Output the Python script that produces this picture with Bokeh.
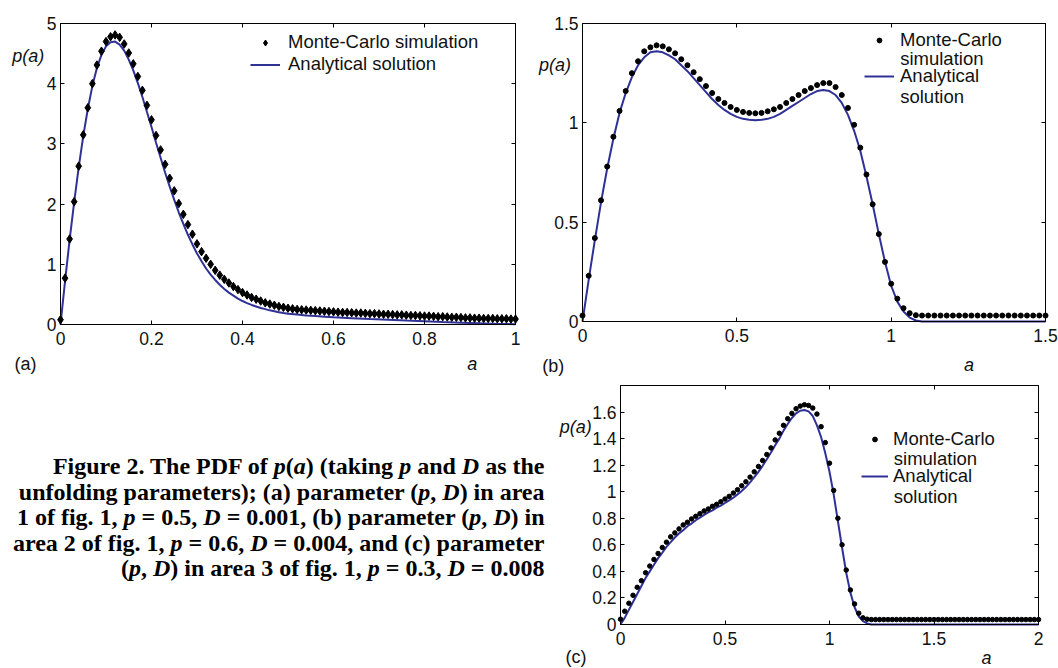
from bokeh.plotting import figure
from bokeh.models import (Range1d, FixedTicker, LinearAxis, CustomJSTickFormatter,
                          Label, Legend, LegendItem, Div, ColumnDataSource)
from bokeh.layouts import row, column
from bokeh.embed import file_html
from bokeh.resources import INLINE

# ---------------- data ----------------
# panel (a): p = 0.5, D = 0.001
A_MC_X = [round(0.01 * i, 2) for i in range(101)]          # simulation sampled every 0.01
A_MC_Y = [0.08, 0.77, 1.42, 2.04, 2.63, 3.15, 3.60, 4.00, 4.31, 4.54,
          4.70, 4.78, 4.81, 4.77, 4.66, 4.51, 4.33, 4.12, 3.89, 3.64,
          3.40, 3.14, 2.90, 2.66, 2.43, 2.22, 2.01, 1.83, 1.66, 1.50,
          1.34, 1.21, 1.10, 1.00, 0.90, 0.82, 0.75, 0.69, 0.63, 0.58,
          0.53, 0.49, 0.45, 0.42, 0.39, 0.36, 0.34, 0.32, 0.30, 0.285,
          0.27, 0.26, 0.25, 0.245, 0.24, 0.235, 0.23, 0.225, 0.22, 0.215,
          0.21, 0.205, 0.20, 0.20, 0.195, 0.19, 0.19, 0.185, 0.18, 0.18,
          0.175, 0.17, 0.17, 0.165, 0.16, 0.16, 0.155, 0.15, 0.15, 0.145,
          0.14, 0.14, 0.135, 0.13, 0.13, 0.125, 0.12, 0.12, 0.115, 0.11,
          0.11, 0.105, 0.105, 0.10, 0.10, 0.10, 0.095, 0.095, 0.095, 0.09,
          0.09]
A_AN_X = [0.00, 0.01, 0.02, 0.03, 0.04, 0.05, 0.06, 0.07, 0.08, 0.09,
          0.10, 0.11, 0.12, 0.13, 0.14, 0.15, 0.16, 0.17, 0.18, 0.19,
          0.20, 0.21, 0.22, 0.23, 0.24, 0.25, 0.26, 0.27, 0.28, 0.29,
          0.30, 0.31, 0.32, 0.33, 0.34, 0.35, 0.36, 0.37, 0.38, 0.39,
          0.40, 0.41, 0.42, 0.43, 0.44, 0.45, 0.46, 0.47, 0.48, 0.49,
          0.50, 0.52, 0.54, 0.56, 0.58, 0.60, 0.64, 0.68, 0.72, 0.76,
          0.80, 0.84, 0.88, 0.92, 0.96, 1.00]
A_AN_Y = [0.00, 0.72, 1.40, 2.03, 2.61, 3.13, 3.58, 3.96, 4.26, 4.48,
          4.62, 4.69, 4.70, 4.65, 4.55, 4.40, 4.22, 4.01, 3.78, 3.53,
          3.28, 3.02, 2.77, 2.52, 2.29, 2.07, 1.86, 1.67, 1.49, 1.33,
          1.18, 1.05, 0.93, 0.83, 0.74, 0.66, 0.59, 0.53, 0.48, 0.43,
          0.39, 0.355, 0.325, 0.30, 0.275, 0.255, 0.235, 0.22, 0.205, 0.19,
          0.18, 0.165, 0.15, 0.14, 0.13, 0.12, 0.105, 0.09, 0.08, 0.065,
          0.055, 0.04, 0.03, 0.02, 0.01, 0.005]

# panel (b): p = 0.6, D = 0.004
B_MC_X = [round(0.02 * i, 2) for i in range(76)]           # simulation sampled every 0.02
B_MC_Y = [0.03, 0.23, 0.42, 0.61, 0.78, 0.93, 1.06, 1.16, 1.25, 1.31,
          1.36, 1.38, 1.39, 1.385, 1.37, 1.35, 1.32, 1.29, 1.255, 1.22,
          1.185, 1.15, 1.12, 1.10, 1.08, 1.065, 1.055, 1.05, 1.048, 1.05,
          1.058, 1.068, 1.08, 1.10, 1.12, 1.14, 1.16, 1.175, 1.19, 1.20,
          1.20, 1.18, 1.14, 1.075, 0.99, 0.875, 0.74, 0.59, 0.44, 0.30,
          0.19, 0.115, 0.067, 0.042, 0.032, 0.03, 0.03, 0.03, 0.03, 0.03,
          0.03, 0.03, 0.03, 0.03, 0.03, 0.03, 0.03, 0.03, 0.03, 0.03,
          0.03, 0.03, 0.03, 0.03, 0.03, 0.03]
B_AN_X = [round(0.02 * i, 2) for i in range(57)] + [1.5]
B_AN_Y = [0.00, 0.21, 0.41, 0.60, 0.77, 0.92, 1.05, 1.15, 1.23, 1.29,
          1.33, 1.355, 1.36, 1.355, 1.34, 1.32, 1.29, 1.26, 1.225, 1.19,
          1.155, 1.12, 1.09, 1.065, 1.045, 1.03, 1.02, 1.015, 1.013, 1.015,
          1.02, 1.03, 1.045, 1.065, 1.085, 1.105, 1.125, 1.145, 1.16, 1.165,
          1.16, 1.14, 1.10, 1.04, 0.96, 0.86, 0.73, 0.59, 0.44, 0.30,
          0.18, 0.10, 0.05, 0.02, 0.005, 0.0, 0.0, 0.0]

# panel (c): p = 0.3, D = 0.008
C_MC_X = [round(0.02 * i, 2) for i in range(101)]          # simulation sampled every 0.02
C_MC_Y = [0.04, 0.10, 0.16, 0.22, 0.28, 0.33, 0.39, 0.44, 0.49, 0.535,
          0.58, 0.62, 0.66, 0.69, 0.72, 0.75, 0.77, 0.795, 0.815, 0.835,
          0.855, 0.87, 0.89, 0.905, 0.925, 0.945, 0.965, 0.99, 1.015, 1.045,
          1.075, 1.11, 1.15, 1.19, 1.235, 1.28, 1.33, 1.39, 1.44, 1.50,
          1.55, 1.59, 1.625, 1.645, 1.655, 1.65, 1.63, 1.585, 1.49, 1.37,
          1.215, 1.01, 0.80, 0.60, 0.41, 0.26, 0.155, 0.085, 0.05, 0.04,
          0.037, 0.037, 0.037, 0.037, 0.037, 0.037, 0.037, 0.037, 0.037, 0.037,
          0.037, 0.037, 0.037, 0.037, 0.037, 0.037, 0.037, 0.037, 0.037, 0.037,
          0.037, 0.037, 0.037, 0.037, 0.037, 0.037, 0.037, 0.037, 0.037, 0.037,
          0.037, 0.037, 0.037, 0.037, 0.037, 0.037, 0.037, 0.037, 0.037, 0.037,
          0.037]
C_AN_X = [round(0.02 * i, 2) for i in range(61)] + [2.0]
C_AN_Y = [0.00, 0.05, 0.11, 0.17, 0.23, 0.29, 0.35, 0.40, 0.45, 0.50,
          0.54, 0.585, 0.62, 0.655, 0.685, 0.71, 0.74, 0.76, 0.785, 0.805,
          0.825, 0.845, 0.86, 0.88, 0.895, 0.915, 0.935, 0.955, 0.98, 1.005,
          1.035, 1.07, 1.11, 1.15, 1.195, 1.245, 1.295, 1.35, 1.40, 1.46,
          1.51, 1.555, 1.59, 1.61, 1.615, 1.605, 1.57, 1.50, 1.41, 1.29,
          1.15, 0.98, 0.78, 0.58, 0.39, 0.24, 0.13, 0.06, 0.025, 0.008,
          0.0, 0.0]

A_XTICKS = [0, 0.2, 0.4, 0.6, 0.8, 1]
A_YTICKS = [0, 1, 2, 3, 4, 5]
B_XTICKS = [0, 0.5, 1, 1.5]
B_YTICKS = [0, 0.5, 1, 1.5]
C_XTICKS = [0, 0.5, 1, 1.5, 2]
C_YTICKS = [0, 0.2, 0.4, 0.6, 0.8, 1, 1.2, 1.4, 1.6]

MC_LABEL = "Monte-Carlo simulation"
AN_LABEL = "Analytical solution"

# ---------------- styling ----------------
SANS = "Liberation Sans"
LINE_COLOR = "#2f3196"
TICK_SIZE = "17.5px"
TEXT_SIZE = "18px"
LEG_SIZE = "18.5px"


class Panel:
    """A figure whose frame fills its canvas; the axes box is drawn with
    fixed-location axes so that texts around it stay inside the frame."""

    def __init__(self, canvas, box, xlim, ylim, xticks, yticks):
        self.x0, self.y0, self.w, self.h = canvas
        bx0, by0, bx1, by1 = box
        self.xs = (bx1 - bx0) / (xlim[1] - xlim[0])
        self.ys = (by1 - by0) / (ylim[1] - ylim[0])
        self.bx0, self.by1 = bx0, by1
        self.xlim, self.ylim = xlim, ylim
        xr = Range1d(xlim[0] - (bx0 - self.x0) / self.xs,
                     xlim[1] + (self.x0 + self.w - bx1) / self.xs)
        yr = Range1d(ylim[0] - (self.y0 + self.h - by1) / self.ys,
                     ylim[1] + (by0 - self.y0) / self.ys)
        p = figure(width=self.w, height=self.h, x_range=xr, y_range=yr,
                   output_backend="svg", toolbar_location=None,
                   min_border_left=0, min_border_right=0,
                   min_border_top=0, min_border_bottom=0,
                   background_fill_color="white", border_fill_color="white")
        p.xgrid.visible = False
        p.ygrid.visible = False
        p.outline_line_color = None
        self.style_axis(p.xaxis[0], xticks, True, ylim[0], xlim, 7)
        self.style_axis(p.yaxis[0], yticks, True, xlim[0], ylim, 4)
        top = LinearAxis()
        self.style_axis(top, xticks, False, ylim[1], xlim)
        p.add_layout(top, "above")
        right = LinearAxis()
        self.style_axis(right, yticks, False, xlim[1], ylim)
        p.add_layout(right, "right")
        self.p = p

    @staticmethod
    def style_axis(ax, ticks, shown, loc, bounds, standoff=0):
        ax.fixed_location = loc
        ax.bounds = bounds
        ax.ticker = FixedTicker(ticks=ticks)
        ax.major_tick_in = 4
        ax.major_tick_out = 0
        ax.minor_tick_in = 0
        ax.minor_tick_out = 0
        ax.axis_line_color = "black"
        ax.axis_line_width = 1
        ax.major_tick_line_color = "black"
        if shown:
            ax.formatter = CustomJSTickFormatter(code="return String(tick);")
            ax.major_label_text_font = SANS
            ax.major_label_text_font_size = TICK_SIZE
            ax.major_label_text_color = "#111111"
            ax.major_label_standoff = standoff
        else:
            ax.formatter = CustomJSTickFormatter(code="return '';")
            ax.major_label_text_font_size = "0px"
            ax.major_label_standoff = 0

    def dx(self, px):
        return self.xlim[0] + (px - self.bx0) / self.xs

    def dy(self, py):
        return self.ylim[0] + (self.by1 - py) / self.ys

    def text(self, px, py, text, style="normal", align="left", size=TEXT_SIZE):
        self.p.add_layout(Label(x=self.dx(px), y=self.dy(py), text=text,
                                text_font=SANS, text_font_size=size,
                                text_font_style=style, text_align=align,
                                text_baseline="middle", text_color="#111111"))

    def series(self, mx, my, ax_, ay, marker, msize):
        src_mc = ColumnDataSource(dict(a=mx, p=my))
        src_an = ColumnDataSource(dict(a=ax_, p=ay))
        r_an = self.p.line("a", "p", source=src_an, line_color=LINE_COLOR, line_width=2)
        r_mc = self.p.scatter("a", "p", source=src_mc, marker=marker, size=msize,
                              fill_color="black", line_color="black")
        return r_mc, r_an

    def legend(self, r_mc, r_an, l1, l2, left_px, bottom_px, glyph_w, glyph_h, standoff, spacing):
        leg = Legend(items=[LegendItem(label=l1, renderers=[r_mc]),
                            LegendItem(label=l2, renderers=[r_an])],
                     location=(left_px - self.x0, self.y0 + self.h - bottom_px),
                     padding=0, margin=0, border_line_color=None,
                     background_fill_alpha=0, label_text_font=SANS,
                     label_text_font_size=LEG_SIZE, label_text_color="#111111",
                     glyph_width=glyph_w, glyph_height=glyph_h, label_height=20,
                     spacing=spacing, label_standoff=standoff)
        self.p.add_layout(leg)


# ---------------- panel (a) ----------------
PA = Panel((0, 0, 530, 376), (60, 23, 515, 324), (0, 1), (0, 5), A_XTICKS, A_YTICKS)
ra_mc, ra_an = PA.series(A_MC_X, A_MC_Y, A_AN_X, A_AN_Y, "diamond", 8.5)
PA.legend(ra_mc, ra_an, MC_LABEL, AN_LABEL, 250, 75, 30, 15, 8, -1)
PA.text(11.7, 55, "p(a)", style="italic")
PA.text(14, 363.5, "(a)")
PA.text(471.8, 363.5, "a", style="italic", align="center")

# ---------------- panel (b) ----------------
PB = Panel((530, 0, 528, 376), (582, 23, 1045, 321), (0, 1.5), (0, 1.5), B_XTICKS, B_YTICKS)
rb_mc, rb_an = PB.series(B_MC_X, B_MC_Y, B_AN_X, B_AN_Y, "circle", 5)
PB.legend(rb_mc, rb_an, "Monte-Carlo", "Analytical", 864, 87, 30, 12, 6, 14)
PB.text(899.7, 57.9, "simulation", size=LEG_SIZE)
PB.text(899.7, 96, "solution", size=LEG_SIZE)
PB.text(538.4, 64, "p(a)", style="italic")
PB.text(541.8, 365, "(b)")
PB.text(968.5, 364, "a", style="italic", align="center")

# ---------------- panel (c) ----------------
PC = Panel((548, 376, 510, 292), (620, 385, 1038, 624), (0, 2), (0, 1.8), C_XTICKS, C_YTICKS)
rc_mc, rc_an = PC.series(C_MC_X, C_MC_Y, C_AN_X, C_AN_Y, "circle", 4.5)
PC.legend(rc_mc, rc_an, "Monte-Carlo", "Analytical", 861, 487, 27, 12, 5, 15)
PC.text(893.3, 458.3, "simulation", size=LEG_SIZE)
PC.text(893.3, 495.7, "solution", size=LEG_SIZE)
PC.text(559.3, 426.7, "p(a)", style="italic")
PC.text(565, 656.5, "(c)")
PC.text(986, 657.5, "a", style="italic", align="center")

# ---------------- caption ----------------
CAPTION_LINES = [
    "Figure 2. The PDF of <i>p</i>(<i>a</i>) (taking <i>p</i> and <i>D</i> as the",
    "unfolding parameters); (a) parameter (<i>p</i>, <i>D</i>) in area",
    "1 of fig. 1, <i>p</i> = 0.5, <i>D</i> = 0.001, (b) parameter (<i>p</i>, <i>D</i>) in",
    "area 2 of fig. 1, <i>p</i> = 0.6, <i>D</i> = 0.004, and (c) parameter",
    "(<i>p</i>, <i>D</i>) in area 3 of fig. 1, <i>p</i> = 0.3, <i>D</i> = 0.008",
]
cap_html = ('<div style="font-family:\'Liberation Serif\',\'Times New Roman\',serif;'
            'font-weight:bold;font-size:24px;line-height:25.5px;'
            'text-align:right;padding-top:78px;position:relative;left:13px;color:#000;'
            'white-space:nowrap;">' + "<br>".join(CAPTION_LINES) + '</div>')
cap = Div(text=cap_html, width=548, height=292, margin=0)

layout = column(row(PA.p, PB.p), row(cap, PC.p))

open("out.html", "w").write(file_html(layout, INLINE))
